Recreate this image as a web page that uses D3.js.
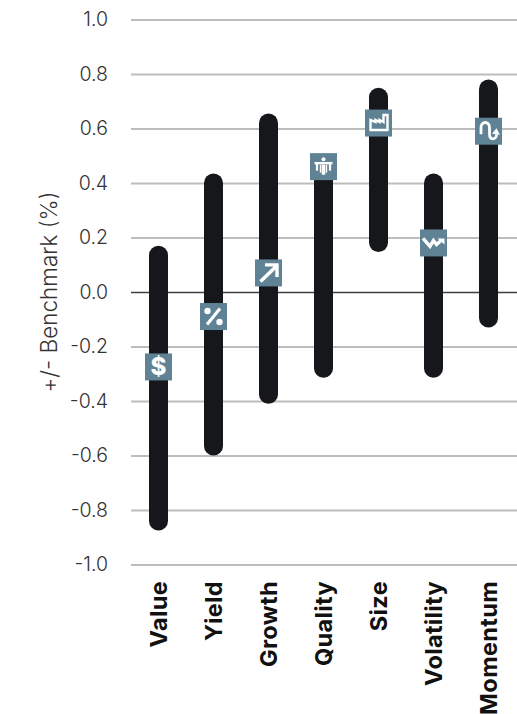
<!DOCTYPE html>
<html>
<head>
<meta charset="utf-8">
<script src="https://cdn.jsdelivr.net/npm/d3@7"></script>
<style>
    html, body { margin: 0; padding: 0; background: #fff; }
    text { font-family: "Inter", sans-serif; }
</style>
</head>
<body>
<div id="wrapper"></div>
<script>
const categories = ["Value", "Yield", "Growth", "Quality", "Size", "Volatility", "Momentum"];
const lows = [-0.875, -0.6, -0.41, -0.315, 0.147, -0.315, -0.13];
const highs = [0.17, 0.435, 0.655, 0.46, 0.75, 0.435, 0.78];
const current = [-0.275, -0.09, 0.07, 0.46, 0.62, 0.18, 0.59];
const yTicks = [-1, -0.8, -0.6, -0.4, -0.2, 0, 0.2, 0.4, 0.6, 0.8, 1];

const width = 517
const height = 714
const margin = { top: 19.5, right: 0, bottom: 149.5, left: 131 }
const barWidth = 19
const iconSize = 27

const svg = d3.select("#wrapper")
    .append("svg")
    .attr("width", width)
    .attr("height", height)
    .style("display", "block");

const yScaler = d3.scaleLinear()
    .domain([-1, 1])
    .range([height - margin.bottom, margin.top]);

const xScaler = d3.scaleBand()
    .domain(categories)
    .range([131, 516])
    .padding(0);

// grid lines and tick labels
const yAxis = svg.append("g")
    .attr("transform", `translate(${margin.left},0)`)
    .call(d3.axisLeft(yScaler)
        .tickValues(yTicks)
        .tickSize(-(width - margin.left))
        .tickPadding(23)
        .tickFormat(d3.format(".1f")));
yAxis.select(".domain").remove();
yAxis.selectAll("line")
    .attr("stroke", d => d === 0 ? "#3f3f3f" : "#bdbdbd")
    .attr("stroke-width", d => d === 0 ? 1.6 : 2);
yAxis.selectAll("text")
    .attr("fill", "#333")
    .attr("font-size", "19.5px")
    .style("font-weight", 300)
    .text(d => d3.format(".1f")(d).replace("\u2212", "-"));

// y label
svg.append("text")
    .attr("transform", `translate(57,${yScaler(0)}) rotate(-90)`)
    .attr("text-anchor", "middle")
    .attr("fill", "#333")
    .attr("font-size", "22.5px")
    .style("font-weight", 300)
    .text("+/- Benchmark (%)");

// range bars
const bandCenter = d => xScaler(d) + xScaler.bandwidth() / 2;
svg.append("g")
    .selectAll("rect")
    .data(categories)
    .enter()
    .append("rect")
    .attr("x", d => bandCenter(d) - barWidth / 2)
    .attr("width", barWidth)
    .attr("y", (d, i) => yScaler(highs[i]))
    .attr("height", (d, i) => yScaler(lows[i]) - yScaler(highs[i]))
    .attr("rx", barWidth / 2)
    .attr("fill", "#15171a");

const line = (g, d, w) => g.append("path").attr("d", d).attr("stroke", "#fff")
    .attr("stroke-width", w).attr("fill", "none");

// icon glyphs, drawn in a 27x27 box centred on 0,0
const iconGlyphs = {
    Value: g => {
        g.append("text").attr("text-anchor", "middle").attr("y", 8.5).attr("fill", "#fff")
            .attr("font-size", "24px").style("font-weight", 800).text("$");
    },
    Yield: g => {
        line(g, "M6.5,-8L-6.5,8", 3.2);
        g.append("circle").attr("cx", -6).attr("cy", -5.5).attr("r", 3.2).attr("fill", "#fff");
        g.append("circle").attr("cx", 6).attr("cy", 5.5).attr("r", 3.2).attr("fill", "#fff");
    },
    Growth: g => {
        line(g, "M-8,8.5L8,-7", 3.6);
        line(g, "M-3.5,-8H8.5V4", 3.4);
    },
    Quality: g => {
        line(g, "M-9,-3.5H9", 2.4);
        line(g, "M-6.5,-3V4", 2.2);
        line(g, "M6.5,-3V4", 2.2);
        line(g, "M0,-2V8", 3.6);
        line(g, "M-3,-2V6", 1.4);
        line(g, "M3,-2V6", 1.4);
        g.append("circle").attr("cx", 0).attr("cy", -7.5).attr("r", 2).attr("fill", "#fff");
    },
    Size: g => {
        line(g, "M-8,-3V7H9V-8H5V-1L1,-3V-1L-3,-3V-1Z", 2.4);
    },
    Volatility: g => {
        line(g, "M-10.5,-4.5L-3.5,3.5L0,-2.5L3,1.5L7,-2", 3.4);
        g.append("path").attr("d", "M4,-4.5H11V1.5Z").attr("fill", "#fff");
    },
    Momentum: g => {
        line(g, "M-7.5,3V-3.5C-7.5,-10.5 1,-10.5 1,-3.5V2.5C1,9.5 8,9 8,3", 2.8);
        g.append("path").attr("d", "M3.5,2.5L8,-3L11.5,3.5Z").attr("fill", "#fff");
    }
};

// icon squares at the current reading
const icons = svg.append("g")
    .selectAll("g")
    .data(categories)
    .enter()
    .append("g")
    .attr("transform", (d, i) => `translate(${bandCenter(d)},${yScaler(current[i])})`);
icons.append("rect")
    .attr("x", -iconSize / 2)
    .attr("y", -iconSize / 2)
    .attr("width", iconSize)
    .attr("height", iconSize)
    .attr("fill", "#5f8294");
icons.each(function (d) { iconGlyphs[d](d3.select(this)); });

// category labels
svg.append("g")
    .selectAll("text")
    .data(categories)
    .enter()
    .append("text")
    .attr("transform", d => `translate(${bandCenter(d) + 8},581) rotate(-90)`)
    .attr("text-anchor", "end")
    .attr("fill", "#111")
    .attr("font-size", "23.5px")
    .style("font-weight", 700)
    .style("letter-spacing", "0.35px")
    .text(d => d);
</script>
</body>
</html>
